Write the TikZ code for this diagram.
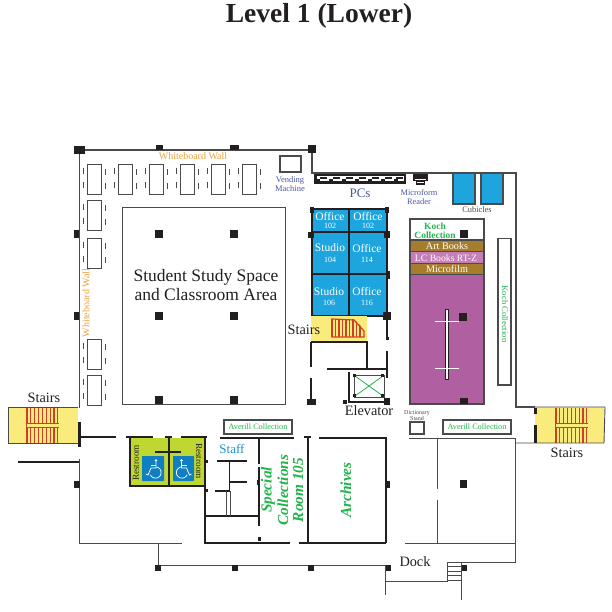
\documentclass[tikz,border=0pt]{standalone}
\usepackage{fontspec}
\setmainfont{Liberation Serif}
\definecolor{ink}{HTML}{231F20}
\definecolor{wallg}{HTML}{4A4A4C}
\definecolor{roomblue}{HTML}{1FA5DE}
\definecolor{iconblue}{HTML}{0F7FC4}
\definecolor{stairy}{HTML}{F9EC7D}
\definecolor{stairr}{HTML}{CF3F26}
\definecolor{purp}{HTML}{B05FA0}
\definecolor{pinkb}{HTML}{C77DB8}
\definecolor{brownb}{HTML}{A67C2D}
\definecolor{restg}{HTML}{BFD730}
\definecolor{greent}{HTML}{22B44B}
\definecolor{oranget}{HTML}{EFA23E}
\definecolor{bluet}{HTML}{4B55A5}
\definecolor{stafft}{HTML}{1F8FD8}
\newcommand\pillar[4]{\fill[ink] (#1,#2) rectangle (#3,#4);}
\newcommand\ctrpillar[2]{\fill[ink] (#1-4,#2-4) rectangle (#1+4,#2+4);}
\newcommand\stairset[2]{%
  \foreach \i in {0,...,8}{\draw[stairline] (#1+\i*3.85,#2) -- (#1+\i*3.85,#2+35);}
  \fill[stairy] (#1-.5,#2+15) rectangle (#1+31.5,#2+19);
  \draw[stairr,line width=.9pt] (#1-.5,#2+15) -- (#1+31.5,#2+15) (#1-.5,#2+19) -- (#1+31.5,#2+19);
}
\newcommand\wheelie[3]{%
  \begin{scope}[shift={(#1,#2)},xscale=#3,white,line width=.75pt]
    \fill (0,-8.5) circle (1.4);
    \draw (0,-7) -- (0,-1) -- (5,-1) -- (8,6) -- (10,5);
    \draw (0,-4) -- (5,-4);
    \draw plot[domain=260:25,samples=24,smooth] ({.5+5.6*cos(\x)},{3.5+5.6*sin(\x)});
  \end{scope}
}
\tikzset{
  thinwall/.style={draw=wallg,line width=.9pt},
  wall/.style={draw=ink,line width=1.5pt},
  heavy/.style={draw=ink,line width=2.2pt},
  furn/.style={draw=wallg,line width=.9pt,fill=white},
  chair/.style={draw=wallg,line width=1pt},
  stairline/.style={draw=stairr,line width=1.2pt},
  whitetxt/.style={text=white,inner sep=0pt},
}
\begin{document}
\begin{tikzpicture}[x=1pt,y=-1pt]
\useasboundingbox (0,0) rectangle (612,612);
\fill[white] (0,0) rectangle (612,612);
\node[font=\bfseries\fontsize{27.5}{27.5}\selectfont,text=ink,inner sep=0pt] (title) at (319,16) {Level 1 (Lower)};

% outer walls, study area
\draw[thinwall,line width=1.1pt] (79,150) -- (312,150) -- (312,173) -- (516,173) -- (516,407) -- (535,407);
\draw[thinwall] (79,150) -- (79,408);
\draw[thinwall] (122,207) rectangle (285,404);
\pillar{74}{146}{85}{154}\pillar{156}{145}{163}{150}\pillar{230}{145}{239}{150}
\pillar{308}{145}{316}{153}\pillar{74}{230}{79}{238}\pillar{74}{312}{79}{320}
\foreach \x/\y in {159/234,234/234,159/316,234/316,159/400,234/400}{\ctrpillar{\x}{\y}}
\node[font=\fontsize{10}{10}\selectfont,text=oranget,inner sep=0pt] (wbtop) at (193,156) {Whiteboard Wall};
\node[font=\fontsize{10}{10}\selectfont,text=oranget,inner sep=0pt,rotate=90] (wbleft) at (86,303) {Whiteboard Wall};
\node[font=\fontsize{17.5}{19}\selectfont,align=center,text=ink,inner sep=0pt] (study) at (206,285) {Student Study Space\\and Classroom Area};

% study tables
\foreach \x/\y in {87/164,118/164,149/164,180/164,211/164,242/164,87/200,87/238,87/339,87/375}{
  \draw[furn] (\x,\y) rectangle (\x+14.5,\y+30);
  \draw[chair] (\x-3.5,\y+4) -- (\x-3.5,\y+10) (\x-3.5,\y+18) -- (\x-3.5,\y+24);
  \draw[chair] (\x+18,\y+5) -- (\x+18,\y+11) (\x+18,\y+19) -- (\x+18,\y+25);
}
\draw[furn,line width=1.1pt] (280,156) rectangle (301,172);
\node[font=\fontsize{8.5}{8.5}\selectfont,align=center,text=bluet,inner sep=0pt] (vending) at (290,184) {Vending\\Machine};

% PC bench and microform
\fill[ink] (314,174) rectangle (406,184);
\fill[white] (316.5,176.5) rectangle (403.5,181.5);
\foreach \x in {320,333,346,359,372,385,396}{\fill[ink] (\x,177.5) rectangle (\x+7,179.5);}
\foreach \x in {316.5,329,342,355,368,381,394}{\fill[ink] (\x,179.5) rectangle (\x+3.5,181.5);}
\fill[ink] (413,174) rectangle (428,181);
\fill[ink] (416,181) rectangle (425,185);
\fill[white] (415,179) rectangle (426,180.5);
\fill[white] (417,182) rectangle (424,183.5);
\node[font=\fontsize{13}{13}\selectfont,text=bluet,inner sep=0pt] (pcs) at (360,193) {PCs};
\node[font=\fontsize{8.4}{8.4}\selectfont,align=center,text=bluet,inner sep=0pt] (micro) at (419,197) {Microform\\Reader};

% cubicles
\draw[thinwall,line width=1.1pt,fill=roomblue] (453,173) rectangle (475,204);
\draw[thinwall,line width=1.1pt,fill=roomblue] (481,173) rectangle (503,204);
\node[font=\fontsize{8.4}{8.4}\selectfont,text=wallg,inner sep=0pt] (cub) at (477,210) {Cubicles};

% offices
\fill[roomblue] (311,209) rectangle (387,316);
\draw[wall] (312,209) -- (312,316) -- (387,316) -- (387,209) -- cycle;
\draw[wall] (349,209) -- (349,316) (312,232) -- (387,232) (312,274) -- (387,274);
\pillar{310}{207}{314}{213}\pillar{385}{207}{389}{213}\pillar{308}{232}{314}{238}\pillar{384}{231}{390}{238}\pillar{386}{271}{390}{279}
\foreach \x/\y/\a/\b/\dy in {330/217/Office/102/9,368/217/Office/102/9,330/248/Studio/104/12,367/249/Office/114/11,329/292/Studio/106/11,367/292/Office/116/11}{
  \node[font=\fontsize{11.5}{11.5}\selectfont,whitetxt] at (\x,\y) {\a};
  \node[font=\fontsize{8}{8}\selectfont,whitetxt] at (\x,\y+\dy) {\b};
}

% inner stairs
\fill[stairy] (311,316) rectangle (367,342);
\foreach \x in {332,335.5,...,362}{\draw[stairr,line width=1.1pt] (\x,319) -- (\x,337);}
\fill[stairy] (354,319) -- (366,331) -- (366,318) -- cycle;
\draw[stairr,line width=1.2pt] (332,319) -- (354,320) -- (364,331) -- (364,337) -- (332,337) -- cycle;
\node[font=\fontsize{14.3}{14.3}\selectfont,text=ink,inner sep=0pt] (stairsin) at (304,330) {Stairs};

% walls round lift
\draw[wall] (311,342) -- (367,342) -- (367,369);
\draw[wall] (311,342) -- (311,367) (311,378) -- (311,402);
\draw[wall] (327,369) -- (387,369);
\draw[wall] (387,316) -- (387,338);
\draw[heavy] (387,351) -- (387,378);
\pillar{383}{312}{391}{320}\pillar{307}{399}{316}{405}\pillar{384}{398}{390}{405}
\pillar{385.5}{337}{388.5}{339.5}
\draw[wall,line width=1.1pt] (349,372) -- (349,402) -- (387,402);
\pillar{343}{400}{347}{404}
\draw[thinwall,fill=white] (354,375) rectangle (384,397);
\draw[greent,line width=.8pt] (355,376) -- (383,396) (383,376) -- (355,396);
\foreach \x/\y in {353/374,381/374,353/394,381/394}{\pillar{\x}{\y}{\x+3}{\y+3}}
\node[font=\fontsize{14.3}{14.3}\selectfont,text=ink,inner sep=0pt] (elev) at (369,411) {Elevator};

% collection column
\draw[thinwall,line width=1.1pt,fill=white] (410,219) rectangle (484,240);
\node[font=\bfseries\fontsize{9.5}{9.5}\selectfont,text=greent,inner sep=0pt] (koch) at (435,226) {Koch};
\node[font=\bfseries\fontsize{9.5}{9.5}\selectfont,text=greent,inner sep=0pt] (coll) at (435,235) {Collection};
\pillar{460}{230}{468}{238}
\fill[brownb] (410,240) rectangle (484,251.5);
\fill[pinkb] (410,251.5) rectangle (484,263);
\fill[brownb] (410,263) rectangle (484,274);
\fill[purp] (410,274) rectangle (484,404);
\draw[thinwall,line width=1.1pt] (410,240) rectangle (484,404);
\draw[thinwall,line width=.6pt] (410,251.5) -- (484,251.5) (410,263) -- (484,263) (410,274) -- (484,274);
\node[font=\fontsize{10.2}{10.2}\selectfont,whitetxt] (art) at (447,246) {Art Books};
\node[font=\fontsize{9.7}{9.7}\selectfont,whitetxt] (lc) at (446,258) {LC Books RT-Z};
\node[font=\fontsize{10.2}{10.2}\selectfont,whitetxt] (mf) at (447,269) {Microfilm};
\draw[ink,line width=.5pt,fill=white] (445,309.5) rectangle (448,379);
\draw[white,line width=1pt] (435,321) -- (459,321) (435,368) -- (459,368);
\pillar{459}{313}{467}{321}\pillar{460}{398}{468}{404}
\draw[furn,line width=1.1pt] (498,238.5) rectangle (511,385);
\node[font=\fontsize{8.6}{8.6}\selectfont,text=greent,inner sep=0pt,rotate=-90] (kochv) at (505,314) {Koch Collection};

% left stairs
\fill[stairy] (8,407) rectangle (78,443);
\stairset{27}{408}
\draw[thinwall] (78,407) -- (8,407) -- (8,443) -- (78,443);
\node[font=\fontsize{14.3}{14.3}\selectfont,text=ink,inner sep=0pt] (stairsl) at (44,398) {Stairs};
\draw[heavy,line width=3pt] (79,422) -- (79,447);
\draw[wall] (81,437) -- (116,437);
\draw[wall,line width=1.1pt] (18,462) -- (79,462);
\draw[thinwall] (79,459) -- (79,543) -- (182,543);
\draw[thinwall] (158,543) -- (158,565) -- (385,565);
\pillar{74}{481}{80}{488}
\foreach \x in {155,232,308,385}{\pillar{\x}{565}{\x+6}{571}}

% restrooms
\fill[restg] (130,438) rectangle (205,486);
\draw[wall] (130,437) -- (130,486) -- (205,486);
\draw[wall] (169,437) -- (169,486);
\draw[wall] (126,437) -- (153,437) (165,437) -- (172,437) (181,437) -- (207,437);
\draw[wall] (155,452) -- (181,452);
\fill[iconblue,rounded corners=.6pt] (142,456) rectangle (164,481);
\fill[iconblue,rounded corners=.6pt] (173,456) rectangle (194,481);
\wheelie{156}{469}{-1}
\wheelie{181.5}{469}{1}
\node[font=\fontsize{9.2}{9.2}\selectfont,text=ink,inner sep=0pt,rotate=90] (rest1) at (136,463) {Restroom};
\node[font=\fontsize{9.2}{9.2}\selectfont,text=ink,inner sep=0pt,rotate=-90] (rest2) at (199,461) {Restroom};

% staff and special collections
\draw[heavy] (205,437) -- (205,544);
\draw[heavy] (205,543) -- (290,543) (299,543) -- (386,543);
\draw[wall] (220,438) -- (294,438);
\draw[wall] (259,438) -- (259,464) (259,467) -- (259,526);
\pillar{257.5}{537}{261}{541}\pillar{257}{480}{260}{485}
\draw[wall] (217,461) -- (247,461) (229.5,461) -- (229.5,491) (230,482) -- (247,482) (215,491) -- (229.5,491) (205,516) -- (259,516);
\draw[thinwall,line width=.8pt] (226,491) -- (226,516) (230,491) -- (230,516);
\pillar{205}{460}{208}{463}\pillar{205}{489}{208}{492}
\draw[wall] (304,437) -- (311,437) (308,437) -- (308,543);
\draw[wall] (319,438) -- (386,438) -- (386,543);
\pillar{386}{481}{390}{488}
\draw[furn,line width=1.1pt] (224,420) rectangle (292,434);
\node[font=\fontsize{8.2}{8.2}\selectfont,text=greent,inner sep=0pt] (av1) at (258,427) {Averill Collection};
\node[font=\fontsize{13}{13}\selectfont,text=stafft,inner sep=0pt] (staff) at (232,449) {Staff};
\node[font=\bfseries\itshape\fontsize{15.3}{15.3}\selectfont,text=greent,inner sep=0pt,rotate=90] (sp) at (268,490) {Special};
\node[font=\bfseries\itshape\fontsize{15.3}{15.3}\selectfont,text=greent,inner sep=0pt,rotate=90] (co) at (283,490) {Collections};
\node[font=\bfseries\itshape\fontsize{15.3}{15.3}\selectfont,text=greent,inner sep=0pt,rotate=90] (rm) at (298,490) {Room 105};
\node[font=\bfseries\itshape\fontsize{15.3}{15.3}\selectfont,text=greent,inner sep=0pt,rotate=90] (ar) at (346,490) {Archives};

% right block
\draw[furn,line width=1.1pt] (410,422) rectangle (424,434);
\node[font=\fontsize{6}{6}\selectfont,align=center,text=wallg,inner sep=0pt] (dict) at (417,416) {Dictionary\\Stand};
\draw[furn,line width=1.1pt] (443,420) rectangle (511,434);
\node[font=\fontsize{8.2}{8.2}\selectfont,text=greent,inner sep=0pt] (av2) at (477,427) {Averill Collection};
\draw[thinwall] (409,438) -- (515,438) -- (515,562) -- (461,562) -- (461,600);
\draw[thinwall] (437,438) -- (437,489) (437,500) -- (437,543);
\draw[thinwall] (405,543) -- (515,543);
\pillar{460}{480}{467}{488}
\node[font=\fontsize{14.3}{14.3}\selectfont,text=ink,inner sep=0pt] (dock) at (415,562) {Dock};
\draw[thinwall] (385,581) -- (447.5,581) (447.5,562) -- (447.5,582) (385,565) -- (385,595);
\foreach \y in {562,566.5,571,575.5,580}{\draw[thinwall,line width=.7pt] (447.5,\y) -- (461,\y);}
\pillar{462}{565}{467}{571}

% right stairs
\fill[stairy] (535,407) rectangle (604,443);
\stairset{556}{408}
\draw[thinwall] (535,407) -- (605,407) -- (604,443) -- (515,443);
\draw[ink,line width=3pt] (535,408) -- (535,414) (535,425) -- (535,443);
\node[font=\fontsize{14.3}{14.3}\selectfont,text=ink,inner sep=0pt] (stairsr) at (567,453) {Stairs};
\end{tikzpicture}
\end{document}
